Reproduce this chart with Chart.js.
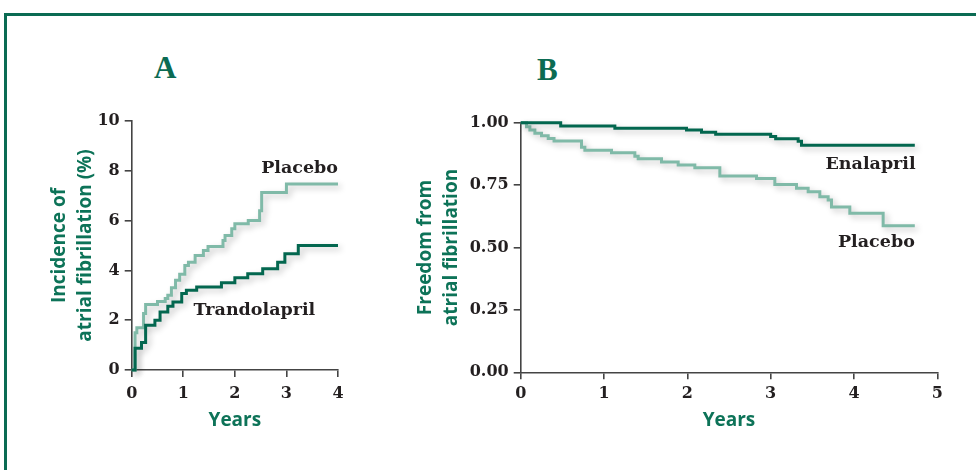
<!DOCTYPE html>
<html>
<head>
<meta charset="utf-8">
<script src="https://cdn.jsdelivr.net/npm/chart.js@4.4.1/dist/chart.umd.min.js"></script>
<style>
    html, body { margin: 0; padding: 0; background: #fff; }
    #wrap { position: relative; width: 976px; height: 470px; overflow: hidden; }
    #frame { position: absolute; left: 4px; top: 13px; width: 1000px; height: 500px; border-top: 3px solid #0b6b53; border-left: 3px solid #0b6b53; }
    canvas { position: absolute; left: 0; top: 0; }
    .panel { position: absolute; font: bold 31px "Liberation Serif", serif; color: #0b6b53; line-height: 1; }
</style>
</head>
<body>
<div id="wrap">
    <div id="frame"></div>
    <div class="panel" style="left:154px; top:52px;">A</div>
    <div class="panel" style="left:537px; top:54px;">B</div>
    <canvas id="chartA" width="976" height="470"></canvas>
    <canvas id="chartB" width="976" height="470"></canvas>
</div>
<script>
// Panel A: incidence of atrial fibrillation (%)
const trandoYears = [0, 0.065, 0.19, 0.27, 0.45, 0.55, 0.7, 0.8, 0.97, 1.06, 1.26, 1.74, 2.0, 2.25, 2.54, 2.83, 2.97, 3.23, 4.0];
const trandoIncidence = [0, 0.87, 1.1, 1.8, 2.0, 2.33, 2.56, 2.73, 3.07, 3.2, 3.33, 3.5, 3.7, 3.87, 4.07, 4.33, 4.67, 5.0, 5.0];
const placeboAYears = [0, 0.065, 0.1, 0.23, 0.27, 0.5, 0.65, 0.7, 0.77, 0.85, 0.93, 1.03, 1.1, 1.23, 1.39, 1.48, 1.77, 1.81, 1.94, 2.0, 2.26, 2.48, 2.52, 3.0, 4.0];
const placeboAIncidence = [0, 1.5, 1.7, 2.27, 2.63, 2.75, 2.87, 3.0, 3.3, 3.6, 3.85, 4.2, 4.33, 4.6, 4.8, 4.96, 5.2, 5.4, 5.67, 5.87, 6.0, 6.4, 7.13, 7.47, 7.47];

// Panel B: freedom from atrial fibrillation
const enalaprilYears = [0, 0.48, 1.13, 1.99, 2.17, 2.34, 3.0, 3.06, 3.33, 3.37, 4.73];
const enalaprilFreedom = [1.0, 0.987, 0.978, 0.971, 0.962, 0.954, 0.945, 0.936, 0.926, 0.91, 0.91];
const placeboBYears = [0, 0.07, 0.11, 0.17, 0.25, 0.33, 0.4, 0.73, 0.77, 1.09, 1.37, 1.41, 1.69, 1.89, 2.09, 2.39, 2.83, 3.05, 3.31, 3.45, 3.59, 3.69, 3.73, 3.95, 4.35, 4.73];
const placeboBFreedom = [1.0, 0.984, 0.971, 0.958, 0.948, 0.937, 0.927, 0.902, 0.89, 0.88, 0.866, 0.856, 0.843, 0.831, 0.82, 0.786, 0.776, 0.752, 0.737, 0.723, 0.703, 0.69, 0.662, 0.637, 0.587, 0.587];

const incidenceTicks = [0, 2, 4, 6, 8, 10];
const yearTicksA = [0, 1, 2, 3, 4];
const freedomTicks = [0, 0.25, 0.5, 0.75, 1];
const yearTicksB = [0, 1, 2, 3, 4, 5];

const DARK = '#03674f';
const LIGHT = '#80baa8';
const TITLE_GREEN = '#0d7358';
const AXIS = '#444444';
const INK = '#231f20';

const tickFont = { family: '"DejaVu Serif"', size: 16, weight: 'bold' };
const titleFont = { family: '"Open Sans"', size: 19, weight: 'bold', lineHeight: 1.37 };

const toPoints = (xs, ys) => xs.map((x, i) => ({ x: x, y: ys[i] }));

const lineShadow = {
    id: 'lineShadow',
    beforeDatasetsDraw(chart) {
        const ctx = chart.ctx;
        ctx.save();
        ctx.shadowColor = 'rgba(0, 0, 0, 0.22)';
        ctx.shadowBlur = 6;
        ctx.shadowOffsetX = 3;
        ctx.shadowOffsetY = 3;
    },
    afterDatasetsDraw(chart) {
        chart.ctx.restore();
    },
};

const curveLabels = {
    id: 'curveLabels',
    afterDraw(chart, args, opts) {
        const { ctx, scales } = chart;
        ctx.save();
        ctx.font = 'bold 17.5px "DejaVu Serif"';
        ctx.fillStyle = INK;
        ctx.textBaseline = 'alphabetic';
        (opts.items || []).forEach((item) => {
            ctx.textAlign = item.align;
            ctx.fillText(item.text, scales.x.getPixelForValue(item.x), scales.y.getPixelForValue(item.y));
        });
        ctx.restore();
    },
};

function axis(tickValues, format, opts) {
    return {
        type: 'linear',
        min: tickValues[0],
        max: tickValues[tickValues.length - 1],
        afterBuildTicks: (scale) => {
            scale.ticks = tickValues.map((value) => ({ value: value }));
        },
        afterFit: (scale) => {
            if (opts.width) scale.width = opts.width;
            if (opts.height) scale.height = opts.height;
        },
        border: { display: true, color: AXIS, width: 1.6 },
        grid: { drawOnChartArea: false, drawTicks: true, tickLength: 7, color: AXIS, lineWidth: 1.6 },
        ticks: { color: INK, font: tickFont, padding: opts.padding, callback: format },
        title: { display: true, text: opts.title, color: TITLE_GREEN, font: titleFont, padding: opts.titlePadding },
    };
}

function curve(label, points, color) {
    return {
        label: label,
        data: points,
        borderColor: color,
        borderWidth: 3,
        stepped: 'before',
        pointRadius: 0,
        fill: false,
        clip: false,
        borderJoinStyle: 'miter',
    };
}

new Chart(document.getElementById('chartA'), {
    type: 'line',
    data: {
        datasets: [
            curve('Trandolapril', toPoints(trandoYears, trandoIncidence), DARK),
            curve('Placebo', toPoints(placeboAYears, placeboAIncidence), LIGHT),
        ],
    },
    options: {
        responsive: false,
        animation: false,
        layout: { padding: { left: 0, top: 121, right: 638, bottom: 0 } },
        plugins: {
            legend: { display: false },
            tooltip: { enabled: false },
            curveLabels: {
                items: [
                    { text: 'Placebo', x: 4.0, y: 7.92, align: 'right' },
                    { text: 'Trandolapril', x: 1.2, y: 2.21, align: 'left' },
                ],
            },
        },
        scales: {
            x: axis(yearTicksA, (v) => String(v), { height: 100, padding: 7, title: 'Years', titlePadding: { bottom: 36 } }),
            y: axis(incidenceTicks, (v) => String(v), {
                width: 131.7, padding: 5,
                title: ['Incidence of', 'atrial fibrillation (%)'],
                titlePadding: { top: 47, bottom: 0 },
            }),
        },
    },
    plugins: [lineShadow, curveLabels],
});

new Chart(document.getElementById('chartB'), {
    type: 'line',
    data: {
        datasets: [
            curve('Enalapril', toPoints(enalaprilYears, enalaprilFreedom), DARK),
            curve('Placebo', toPoints(placeboBYears, placeboBFreedom), LIGHT),
        ],
    },
    options: {
        responsive: false,
        animation: false,
        layout: { padding: { left: 0, top: 122.7, right: 38.7, bottom: 0 } },
        plugins: {
            legend: { display: false },
            tooltip: { enabled: false },
            curveLabels: {
                items: [
                    { text: 'Enalapril', x: 4.74, y: 0.815, align: 'right' },
                    { text: 'Placebo', x: 4.73, y: 0.502, align: 'right' },
                ],
            },
        },
        scales: {
            x: axis(yearTicksB, (v) => String(v), { height: 97.7, padding: 5, title: 'Years', titlePadding: { bottom: 36 } }),
            y: axis(freedomTicks, (v) => v.toFixed(2), {
                width: 520.7, padding: 5,
                title: ['Freedom from', 'atrial fibrillation'],
                titlePadding: { top: 413, bottom: 0 },
            }),
        },
    },
    plugins: [lineShadow, curveLabels],
});
</script>
</body>
</html>
